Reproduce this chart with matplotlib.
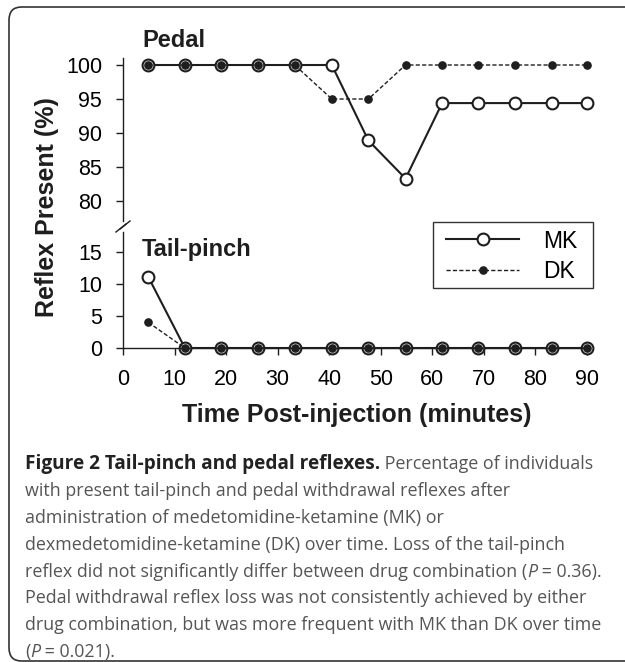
import matplotlib
matplotlib.use("Agg")
import matplotlib.pyplot as plt
from matplotlib.patches import FancyBboxPatch, Rectangle
from matplotlib.lines import Line2D

# data
time_min = [4.9, 12.0, 19.1, 26.2, 33.3, 40.5, 47.6, 54.8, 61.9, 68.9, 76.1, 83.2, 90.0]
mk_pedal = [100, 100, 100, 100, 100, 100, 88.9, 83.3, 94.4, 94.4, 94.4, 94.4, 94.4]
dk_pedal = [100, 100, 100, 100, 100, 95, 95, 100, 100, 100, 100, 100, 100]
mk_tail = [11.1, 0, 0, 0, 0, 0, 0, 0, 0, 0, 0, 0, 0]
dk_tail = [4, 0, 0, 0, 0, 0, 0, 0, 0, 0, 0, 0, 0]
top_ticks = [80, 85, 90, 95, 100]
bottom_ticks = [0, 5, 10, 15]
x_ticks = [0, 10, 20, 30, 40, 50, 60, 70, 80, 90]

W, H = 625, 662
plt.rcParams['font.family'] = ['Liberation Sans', 'DejaVu Sans']

fig = plt.figure(figsize=(W / 100, H / 100), dpi=100)


def fx(px):
    return px / W


def fy(py):
    return 1 - py / H


ink = '#1e1e1e'

# frame round the whole figure
box = FancyBboxPatch((fx(9), fy(661)), fx(700), fy(7) - fy(661),
                     boxstyle='round,pad=0,rounding_size=0.02',
                     transform=fig.transFigure, fill=False,
                     edgecolor='#333333', linewidth=1.2)
fig.add_artist(box)

ax_top = fig.add_axes([fx(123), fy(221), fx(587) - fx(123), fy(58) - fy(221)])
ax_bot = fig.add_axes([fx(123), fy(348), fx(587) - fx(123), fy(232) - fy(348)])

mk_style = dict(color=ink, linewidth=1.5, marker='o', markersize=8.5,
                markerfacecolor='white', markeredgecolor=ink,
                markeredgewidth=1.5, clip_on=False)
dk_style = dict(color=ink, linewidth=1.0, linestyle=(0, (3, 1.6)), marker='o',
                markersize=5.2, markerfacecolor=ink, markeredgecolor=ink,
                clip_on=False)

ax_top.plot(time_min, mk_pedal, label='MK', **mk_style)
ax_top.plot(time_min, dk_pedal, label='DK', **dk_style)
ax_bot.plot(time_min, mk_tail, label='MK', **mk_style)
ax_bot.plot(time_min, dk_tail, label='DK', **dk_style)

ax_top.set_ylim(77.06, 101.03)
ax_bot.set_ylim(0, 18.1)
for ax in (ax_top, ax_bot):
    ax.set_xlim(0, 90)
    ax.set_facecolor('none')
    for s in ('top', 'right'):
        ax.spines[s].set_visible(False)
    ax.spines['left'].set_linewidth(1.0)
    ax.spines['left'].set_color(ink)
    ax.tick_params(axis='y', direction='out', length=5, width=1.0,
                   pad=10, labelsize=15.5, color=ink)

ax_top.spines['bottom'].set_visible(False)
ax_top.set_xticks([])
ax_top.set_yticks(top_ticks)
ax_bot.set_yticks(bottom_ticks)
ax_bot.set_xticks(x_ticks)
ax_bot.spines['bottom'].set_linewidth(1.0)
ax_bot.spines['bottom'].set_color(ink)
ax_bot.tick_params(axis='x', direction='out', length=5, width=1.0,
                   pad=10, labelsize=15.5, color=ink)

# break marks on the y axis
for cx, cy in [(121, 228), (125, 225)]:
    fig.add_artist(Line2D([fx(cx - 5), fx(cx + 5)], [fy(cy + 4), fy(cy - 4)],
                          transform=fig.transFigure, color=ink, linewidth=1.0))

ax_top.text(fx(142), fy(47), 'Pedal', transform=fig.transFigure,
            fontsize=17, fontweight='bold', color=ink, va='baseline')
ax_bot.text(fx(142), fy(256), 'Tail-pinch', transform=fig.transFigure,
            fontsize=17, fontweight='bold', color=ink, va='baseline')

fig.text(fx(47), fy(207), 'Reflex Present (%)', rotation=90,
         fontsize=18, fontweight='bold', color=ink, ha='center', va='center')
fig.text(fx(357), fy(415), 'Time Post-injection (minutes)',
         fontsize=18, fontweight='bold', color=ink, ha='center', va='center')

# legend without its own frame, boxed by hand to get the padding right
leg = ax_bot.legend(loc='upper left', bbox_to_anchor=(fx(446), fy(229.5)),
                    bbox_transform=fig.transFigure, borderaxespad=0,
                    fontsize=16.5, frameon=False,
                    handlelength=3.2, handletextpad=1.05, labelspacing=0.32,
                    borderpad=0)
fig.add_artist(Rectangle((fx(433), fy(288)), fx(593) - fx(433), fy(222) - fy(288),
                         transform=fig.transFigure, fill=False,
                         edgecolor='#333333', linewidth=1.0))

# caption
cap_font = ['Open Sans', 'DejaVu Sans']
grey = '#555555'
bold = ('bold', 'normal', '#222222', 13.7)
reg = ('normal', 'normal', grey, 12.9)
ita = ('normal', 'italic', grey, 12.9)

caption = [
    [('Figure 2 Tail-pinch and pedal reflexes.', bold), (' Percentage of individuals', reg)],
    [('with present tail-pinch and pedal withdrawal reflexes after', reg)],
    [('administration of medetomidine-ketamine (MK) or', reg)],
    [('dexmedetomidine-ketamine (DK) over time. Loss of the tail-pinch', reg)],
    [('reflex did not significantly differ between drug combination (', reg),
     ('P', ita), (' = 0.36).', reg)],
    [('Pedal withdrawal reflex loss was not consistently achieved by either', reg)],
    [('drug combination, but was more frequent with MK than DK over time', reg)],
    [('(', reg), ('P', ita), (' = 0.021).', reg)],
]

renderer = fig.canvas.get_renderer()
baseline = 469
for line in caption:
    x = fx(25)
    for txt, (wt, st, col, size) in line:
        t = fig.text(x, fy(baseline), txt, family=cap_font, fontsize=size,
                     fontweight=wt, fontstyle=st, color=col, va='baseline')
        x += t.get_window_extent(renderer).width / fig.bbox.width
    baseline += 26.9

fig.savefig('out.png', dpi=100)
